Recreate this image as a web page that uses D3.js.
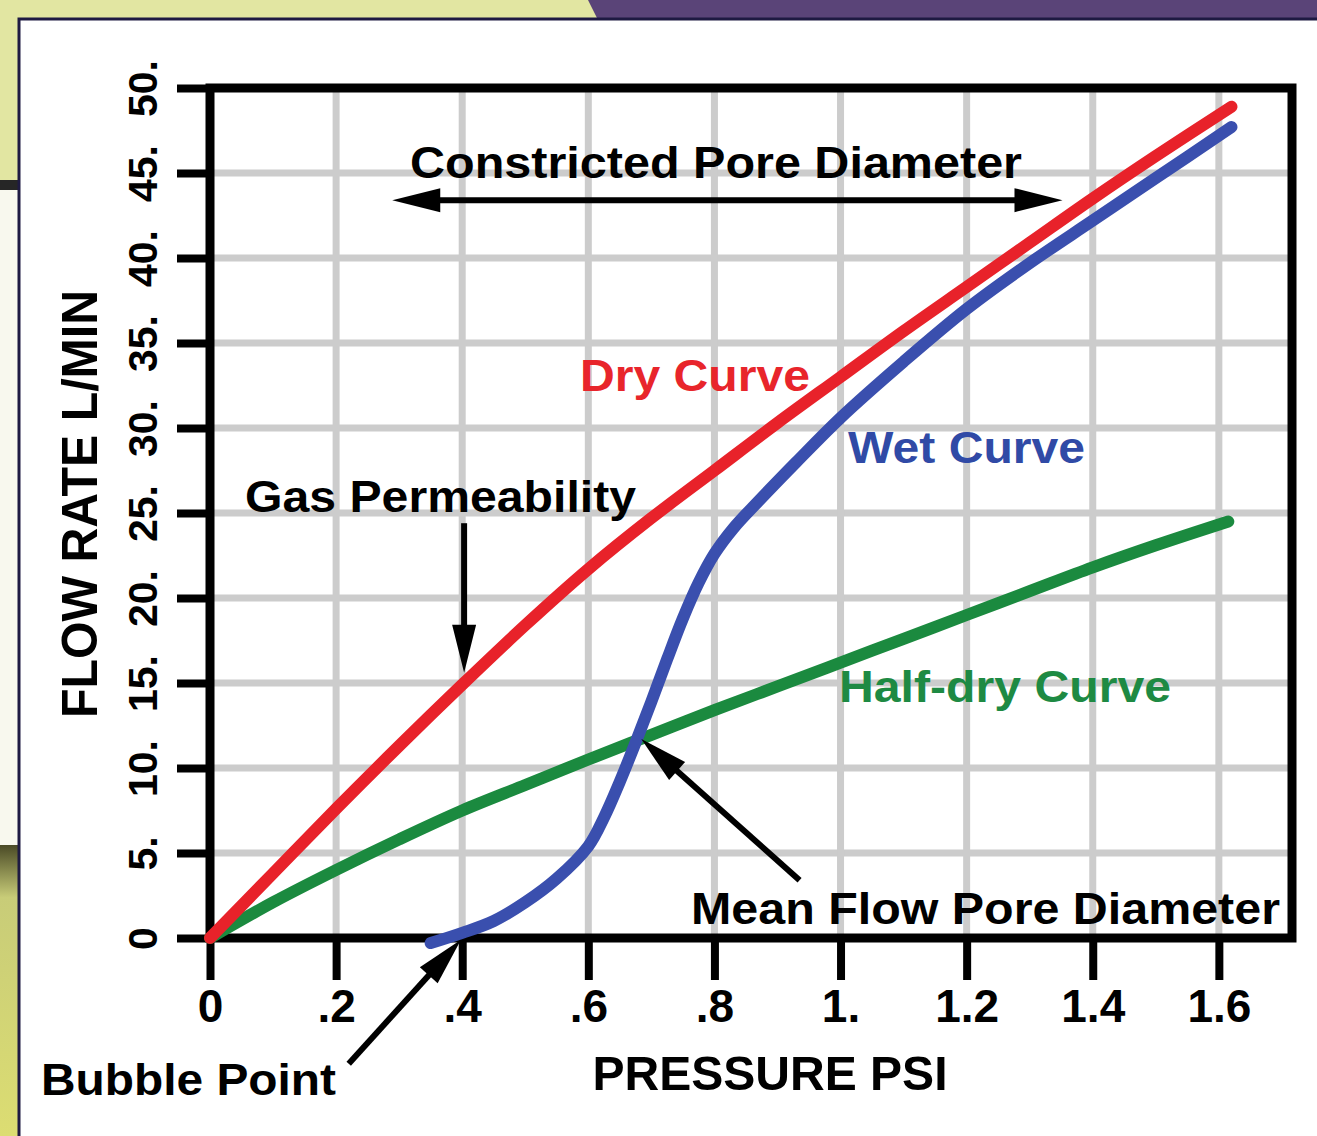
<!DOCTYPE html>
<html>
<head>
<meta charset="utf-8">
<script src="https://cdnjs.cloudflare.com/ajax/libs/d3/7.8.5/d3.min.js"></script>
<style>
	body { margin: 0; background: #fff; }
	svg { display: block; }
	text { font-family: "Liberation Sans", Arial, Helvetica, sans-serif; font-weight: bold; }
</style>
</head>
<body>
<svg id="chart" width="1317" height="1136"></svg>
<script>
// Axis ticks
var pressureTicks = [0, 0.2, 0.4, 0.6, 0.8, 1.0, 1.2, 1.4, 1.6],
	pressureLabels = ['0', '.2', '.4', '.6', '.8', '1.', '1.2', '1.4', '1.6'],
	flowTicks = [0, 5, 10, 15, 20, 25, 30, 35, 40, 45, 50],
	flowLabels = ['0', '5.', '10.', '15.', '20.', '25.', '30.', '35.', '40.', '45.', '50.'];

// Dry curve (pressure psi / flow L/min)
var dryP = [0, 0.1, 0.2, 0.3, 0.4, 0.5, 0.6, 0.7, 0.8, 0.9, 1.0, 1.1, 1.2, 1.3, 1.4, 1.5, 1.62],
	dryQ = [0, 3.8, 7.6, 11.3, 14.9, 18.4, 21.7, 24.7, 27.5, 30.3, 33.0, 35.7, 38.3, 40.9, 43.5, 46.0, 48.9];

// Wet curve
var wetP = [0.35, 0.4, 0.45, 0.5, 0.55, 0.6, 0.625, 0.65, 0.675, 0.7, 0.725, 0.75, 0.775, 0.8, 0.83, 0.87, 0.93, 1.0, 1.1, 1.2, 1.3, 1.4, 1.5, 1.62],
	wetQ = [-0.3, 0.3, 1.0, 2.1, 3.5, 5.4, 7.1, 9.2, 11.5, 13.9, 16.4, 18.8, 20.9, 22.6, 24.1, 25.7, 28.0, 30.6, 33.9, 37.0, 39.7, 42.2, 44.7, 47.7];

// Half-dry curve
var halfP = [0, 0.1, 0.2, 0.3, 0.4, 0.5, 0.6, 0.7, 0.8, 0.9, 1.0, 1.1, 1.2, 1.3, 1.4, 1.5, 1.615],
	halfQ = [0, 2.1, 4.0, 5.8, 7.5, 9.0, 10.5, 11.95, 13.4, 14.8, 16.2, 17.6, 19.0, 20.4, 21.8, 23.1, 24.5];

var svg = d3.select('#chart');

// Page decoration behind the white card
var defs = svg.append('defs');
var lowGrad = defs.append('linearGradient').attr('id', 'lowGrad')
	.attr('x1', 0).attr('y1', 0).attr('x2', 0).attr('y2', 1);
lowGrad.append('stop').attr('offset', '0%').attr('stop-color', '#4a4a26');
lowGrad.append('stop').attr('offset', '18%').attr('stop-color', '#c8cc78');
lowGrad.append('stop').attr('offset', '100%').attr('stop-color', '#dcdd72');

svg.append('rect').attr('x', 0).attr('y', 0).attr('width', 1317).attr('height', 1136).attr('fill', '#e2e6a2');
svg.append('path').attr('d', 'M588,0L1317,0L1317,20L598,20Z').attr('fill', '#5a4478');
svg.append('rect').attr('x', 0).attr('y', 180).attr('width', 20).attr('height', 10).attr('fill', '#262626');
svg.append('rect').attr('x', 0).attr('y', 190).attr('width', 20).attr('height', 655).attr('fill', '#f8f8ee');
svg.append('rect').attr('x', 0).attr('y', 845).attr('width', 20).attr('height', 291).attr('fill', 'url(#lowGrad)');
svg.append('rect').attr('x', 19).attr('y', 19).attr('width', 1300).attr('height', 1120)
	.attr('fill', '#fff').attr('stroke', '#1e1a42').attr('stroke-width', 3);

// Scales
var x = d3.scaleLinear().domain([0, 1.716]).range([210, 1292]),
	y = d3.scaleLinear().domain([0, 50]).range([938, 88]);

var plot = svg.append('g');

// Grid
plot.selectAll('.hgrid').data(flowTicks.slice(1, -1)).enter().append('line')
	.attr('class', 'hgrid')
	.attr('x1', x(0)).attr('x2', x(1.716))
	.attr('y1', function(d) { return y(d); }).attr('y2', function(d) { return y(d); })
	.attr('stroke', '#cccccc').attr('stroke-width', 7);
plot.selectAll('.vgrid').data(pressureTicks.slice(1)).enter().append('line')
	.attr('class', 'vgrid')
	.attr('y1', y(0)).attr('y2', y(50))
	.attr('x1', function(d) { return x(d); }).attr('x2', function(d) { return x(d); })
	.attr('stroke', '#cccccc').attr('stroke-width', 7);

// Axes
var xAxis = d3.axisBottom(x).tickValues(pressureTicks).tickSize(42).tickSizeOuter(0)
	.tickFormat(function(d, i) { return pressureLabels[i]; });
var yAxis = d3.axisLeft(y).tickValues(flowTicks).tickSize(33).tickSizeOuter(0)
	.tickFormat(function(d, i) { return flowLabels[i]; });

var gx = plot.append('g').attr('transform', 'translate(0,' + y(0) + ')').call(xAxis);
var gy = plot.append('g').attr('transform', 'translate(' + x(0) + ',0)').call(yAxis);

[gx, gy].forEach(function(g) {
	g.select('.domain').remove();
	g.selectAll('.tick line').attr('stroke', '#000').attr('stroke-width', 8);
	g.selectAll('.tick text').attr('fill', '#000');
});
gx.selectAll('.tick text')
	.attr('y', 84).attr('dy', 0)
	.style('font-size', '46px');
gy.selectAll('.tick text')
	.attr('text-anchor', 'middle')
	.attr('transform', 'rotate(-90)')
	.attr('x', 0).attr('y', -53).attr('dy', 0)
	.style('font-size', '41px');

// Frame
plot.append('rect')
	.attr('x', x(0)).attr('y', y(50))
	.attr('width', x(1.716) - x(0)).attr('height', y(0) - y(50))
	.attr('fill', 'none').attr('stroke', '#000').attr('stroke-width', 9);

// Axis titles
svg.append('text')
	.attr('x', 770).attr('y', 1090).attr('text-anchor', 'middle')
	.attr('textLength', 355).attr('lengthAdjust', 'spacingAndGlyphs')
	.style('font-size', '48px').text('PRESSURE PSI');
svg.append('text')
	.attr('transform', 'translate(97,504) rotate(-90)').attr('text-anchor', 'middle')
	.attr('textLength', 428).attr('lengthAdjust', 'spacingAndGlyphs')
	.style('font-size', '50px').text('FLOW RATE L/MIN');

// Curves
var line = d3.line()
	.x(function(d) { return x(d[0]); })
	.y(function(d) { return y(d[1]); })
	.curve(d3.curveCatmullRom.alpha(0.5));

var series = [
	{ p: halfP, q: halfQ, color: '#1b8a3f' },
	{ p: wetP, q: wetQ, color: '#3a4fae' },
	{ p: dryP, q: dryQ, color: '#e8222a' }
];
plot.selectAll('.curve').data(series).enter().append('path')
	.attr('class', 'curve')
	.attr('d', function(s) { return line(d3.zip(s.p, s.q)); })
	.attr('fill', 'none')
	.attr('stroke', function(s) { return s.color; })
	.attr('stroke-width', 12)
	.attr('stroke-linecap', 'round')
	.attr('stroke-linejoin', 'round');

// Arrow helper: line with a filled head at (x2,y2), optional head at start
function arrow(g, x1, y1, x2, y2, both) {
	var a = Math.atan2(y2 - y1, x2 - x1),
		len = 48, half = 12;
	function head(tx, ty, ang) {
		var bx = tx - len * Math.cos(ang), by = ty - len * Math.sin(ang);
		g.append('path')
			.attr('d', 'M' + tx + ',' + ty +
				'L' + (bx + half * Math.sin(ang)) + ',' + (by - half * Math.cos(ang)) +
				'L' + (bx - half * Math.sin(ang)) + ',' + (by + half * Math.cos(ang)) + 'Z')
			.attr('fill', '#000');
	}
	var sx = both ? x1 + 30 * Math.cos(a) : x1, sy = both ? y1 + 30 * Math.sin(a) : y1;
	g.append('line')
		.attr('x1', sx).attr('y1', sy)
		.attr('x2', x2 - 30 * Math.cos(a)).attr('y2', y2 - 30 * Math.sin(a))
		.attr('stroke', '#000').attr('stroke-width', 6);
	head(x2, y2, a);
	if (both) head(x1, y1, a + Math.PI);
}

var notes = svg.append('g');
arrow(notes, x(0.289), y(43.4), x(1.352), y(43.4), true);
arrow(notes, x(0.403), y(24.4), x(0.403), y(15.6), false);
arrow(notes, x(0.935), y(3.4), x(0.684), y(11.7), false);
arrow(notes, x(0.22), y(-7.4), x(0.398), y(-0.1), false);

// Annotation labels
var labels = [
	{ t: 'Constricted Pore Diameter', x: 410, y: 178, w: 612, c: '#000' },
	{ t: 'Dry Curve', x: 580, y: 391, w: 230, c: '#e8252b' },
	{ t: 'Wet Curve', x: 848, y: 463, w: 237, c: '#304aa6' },
	{ t: 'Gas Permeability', x: 245, y: 512, w: 391, c: '#000' },
	{ t: 'Half-dry Curve', x: 839, y: 702, w: 332, c: '#1e8a43' },
	{ t: 'Mean Flow Pore Diameter', x: 691, y: 924, w: 589, c: '#000' },
	{ t: 'Bubble Point', x: 41, y: 1095, w: 295, c: '#000' }
];
notes.selectAll('.note').data(labels).enter().append('text')
	.attr('class', 'note')
	.attr('x', function(d) { return d.x; })
	.attr('y', function(d) { return d.y; })
	.attr('textLength', function(d) { return d.w; })
	.attr('lengthAdjust', 'spacingAndGlyphs')
	.attr('fill', function(d) { return d.c; })
	.style('font-size', '45px')
	.text(function(d) { return d.t; });
</script>
</body>
</html>
